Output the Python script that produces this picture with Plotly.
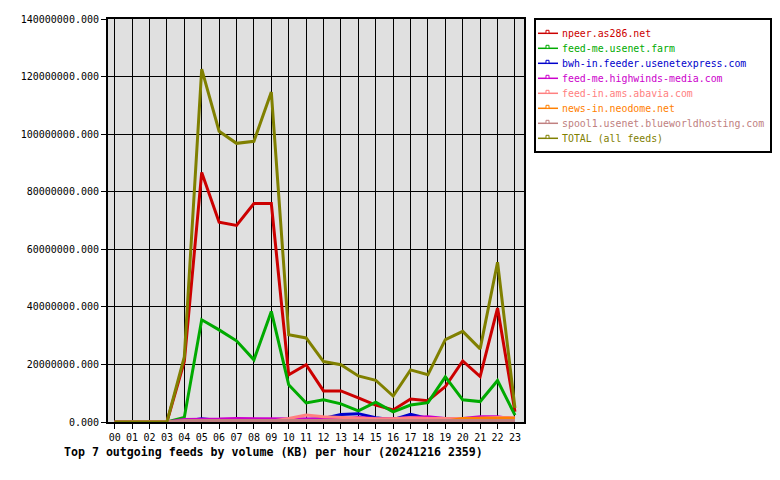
import plotly.graph_objects as go

hours = ["%02d" % h for h in range(24)]

npeer = [0, 0, 0, 0, 21.0, 86.7, 69.4, 68.3, 75.9, 75.9, 16.4, 19.9, 10.8, 10.8, 8.4, 5.9, 4.2, 8.0, 7.4, 12.3, 21.2, 15.8, 39.6, 3.6]
usenet_farm = [0, 0, 0, 0, 1.6, 35.5, 32.0, 28.2, 21.6, 38.4, 12.9, 6.6, 7.7, 6.3, 3.9, 6.9, 3.5, 5.9, 6.7, 15.7, 7.7, 7.1, 14.4, 2.4]
usenetexpress = [0, 0, 0, 0, 0.3, 1.1, 0.5, 0.5, 0.5, 0.5, 0.5, 0.8, 1.2, 2.6, 2.9, 1.5, 0.8, 2.7, 1.2, 1.0, 0.8, 0.7, 0.7, 0.5]
highwinds = [0, 0, 0, 0, 0.9, 0.9, 1.0, 1.2, 1.2, 1.2, 1.1, 1.0, 1.2, 1.0, 1.6, 1.2, 1.1, 1.6, 1.8, 1.2, 1.2, 1.8, 1.8, 1.0]
abavia = [0, 0, 0, 0, 0, 0, 0.2, 0.3, 0.3, 0.3, 1.2, 2.4, 1.8, 1.5, 1.2, 1.1, 1.1, 1.5, 1.2, 1.2, 1.2, 1.3, 1.6, 1.5]
neodome = [0, 0, 0, 0, 0, 0, 0, 0, 0, 0, 0, 0, 0, 0, 0, 0, 0, 0, 0, 0.3, 1.2, 1.3, 1.4, 1.3]
blueworld = [0, 0, 0, 0, 0.5, 0.5, 0.5, 0.5, 0.5, 0.5, 0.5, 0.5, 0.5, 0.5, 0.5, 0.5, 0.5, 0.5, 0.5, 0.5, 0.5, 0.5, 0.5, 0.5]
total = [0, 0, 0, 0, 22.6, 122.6, 101.0, 96.8, 97.5, 114.6, 30.3, 29.2, 21.0, 19.9, 16.0, 14.5, 9.0, 18.1, 16.4, 28.6, 31.5, 25.4, 55.5, 4.9]

names = ["npeer.as286.net", "feed-me.usenet.farm", "bwh-in.feeder.usenetexpress.com",
         "feed-me.highwinds-media.com", "feed-in.ams.abavia.com", "news-in.neodome.net",
         "spool1.usenet.blueworldhosting.com", "TOTAL (all feeds)"]
series = [npeer, usenet_farm, usenetexpress, highwinds, abavia, neodome, blueworld, total]
colors = ["#cc0000", "#00aa00", "#0000cc", "#cc00cc", "#ff8080", "#ff8000", "#c08080", "#808000"]

title = "Top 7 outgoing feeds by volume (KB) per hour (20241216 2359)"

MONO = "DejaVu Sans Mono"
fig = go.Figure()
for n, s, c in zip(names, series, colors):
    fig.add_trace(go.Scatter(x=hours, y=[v * 1e6 for v in s], name=n, mode="lines",
                             line=dict(color=c, width=3), showlegend=False))

# plot area in pixels
L, R, T, B = 108, 524, 19, 422
W = R - L
H = B - T

def px(x):
    return (x - L) / W

def py(y):
    return (B - y) / H

shapes = [dict(type="rect", xref="paper", yref="paper", x0=px(535), x1=px(771), y0=py(19), y1=py(152),
               line=dict(color="black", width=2), fillcolor="white")]
annotations = []
for i, (n, c) in enumerate(zip(names, colors)):
    yc = 33.3 + 15 * i
    shapes.append(dict(type="line", xref="paper", yref="paper", x0=px(538), x1=px(558), y0=py(yc), y1=py(yc),
                       line=dict(color=c, width=1.5)))
    shapes.append(dict(type="rect", xref="paper", yref="paper", x0=px(546), x1=px(549), y0=py(yc), y1=py(yc - 3),
                       line=dict(color=c, width=1), fillcolor="white"))
    annotations.append(dict(xref="paper", yref="paper", x=px(560), y=py(yc), xanchor="left", yanchor="middle",
                            text=n, showarrow=False, font=dict(family=MONO, size=9.9, color=c)))

annotations.append(dict(xref="paper", yref="paper", x=px(62), y=py(452), xanchor="left", yanchor="middle",
                        text="<b>" + title + "</b>", showarrow=False,
                        font=dict(family=MONO, size=11.6, color="black")))

fig.update_layout(
    width=780, height=480,
    margin=dict(l=L, r=780 - R, t=T, b=480 - B),
    paper_bgcolor="white", plot_bgcolor="#e0e0e0",
    font=dict(family=MONO, size=10, color="black"),
    shapes=shapes, annotations=annotations,
    showlegend=False,
)
fig.update_xaxes(type="category", range=[-0.385, 23.52], showgrid=True, gridcolor="black", gridwidth=1,
                 showline=True, mirror=True, linecolor="black", linewidth=2,
                 ticks="outside", ticklen=5, tickcolor="black", tickfont=dict(family=MONO, size=10))
fig.update_yaxes(range=[0, 140e6], dtick=20e6, tickformat=".3f", showgrid=True, gridcolor="black", gridwidth=1,
                 showline=True, mirror=True, linecolor="black", linewidth=2, zeroline=False,
                 ticks="outside", ticklen=5, tickcolor="black", tickfont=dict(family=MONO, size=10))

fig.write_html("out.html")
